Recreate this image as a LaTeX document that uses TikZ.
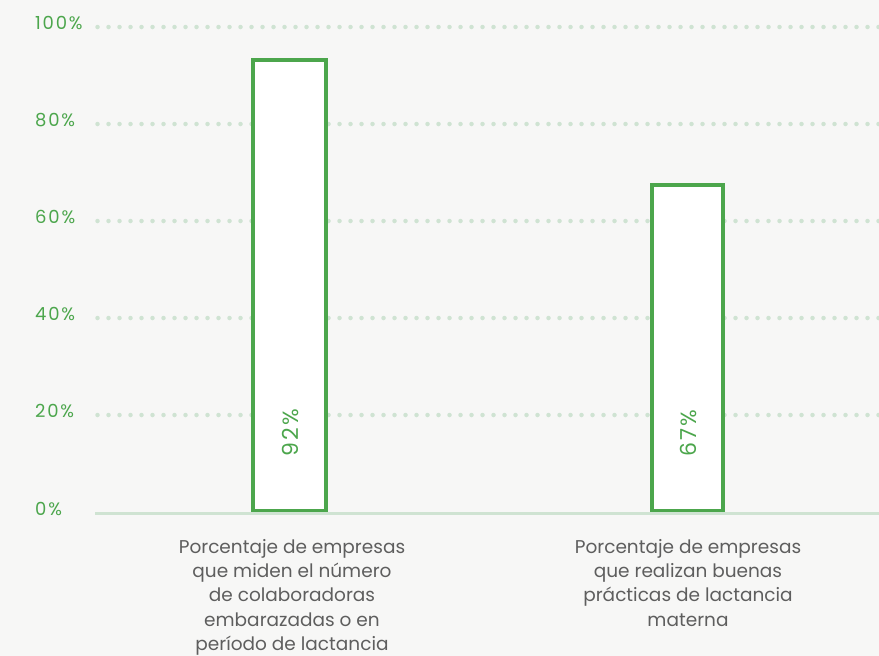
\documentclass[tikz,border=0pt]{standalone}
\usepackage{fontspec}
\setmainfont{Poppins}
\newfontfamily\spacedfont[LetterSpace=10]{Poppins}
\definecolor{barGreen}{HTML}{4CA64C}
\definecolor{gridGreen}{HTML}{CFE3D2}
\definecolor{catGray}{HTML}{5E5E5E}
\definecolor{paper}{HTML}{F7F7F6}
\begin{document}
\begin{tikzpicture}[x=1pt,y=-1pt,
           tick/.style={text=barGreen, anchor=base west, inner sep=0pt,
              font=\spacedfont\fontsize{18}{18}\selectfont},
           gridline/.style={draw=gridGreen, line width=4.5pt, line cap=round,
              dash pattern=on 0pt off 11pt},
           baseline/.style={draw=gridGreen, line width=3pt},
           bar/.style={draw=barGreen, fill=white, line width=4pt},
           value/.style={text=barGreen, rotate=90, inner sep=0pt,
              font=\spacedfont\fontsize{22}{22}\selectfont},
           category/.style={text=catGray, align=center, anchor=north, inner sep=0pt,
              font=\fontsize{18.5}{24.3}\selectfont},
        ]
        \fill[paper] (0,0) rectangle (879,656);
        \useasboundingbox (0,0) rectangle (879,656);

        % axis
        \node[tick] (t100) at (35,29) {100\%};
        \node[tick] (t80) at (35,126) {80\%};
        \node[tick] (t60) at (35,223) {60\%};
        \node[tick] (t40) at (35,320) {40\%};
        \node[tick] (t20) at (35,417) {20\%};
        \node[tick] (t0) at (35,515) {0\%};
        \draw[gridline] (97.5,27) -- (879,27);
        \draw[gridline] (97.5,124) -- (879,124);
        \draw[gridline] (97.5,221) -- (879,221);
        \draw[gridline] (97.5,318) -- (879,318);
        \draw[gridline] (97.5,415) -- (879,415);

        % bars
        \draw[bar] (253,511) rectangle (326,60);
        \node[value] (v92) at (290.5,433) {92\%};
        \draw[bar] (652,511) rectangle (723,185);
        \node[value] (v67) at (688.5,433) {67\%};
        \draw[baseline] (95,513.5) -- (879,513.5);

        % categories
        \node[category] (c1) at (292,539) {Porcentaje de empresas\\que miden el número\\de colaboradoras\\embarazadas o en\\período de lactancia};
        \node[category] (c2) at (688,539) {Porcentaje de empresas\\que realizan buenas\\prácticas de lactancia\\materna};
     \end{tikzpicture}
\end{document}
